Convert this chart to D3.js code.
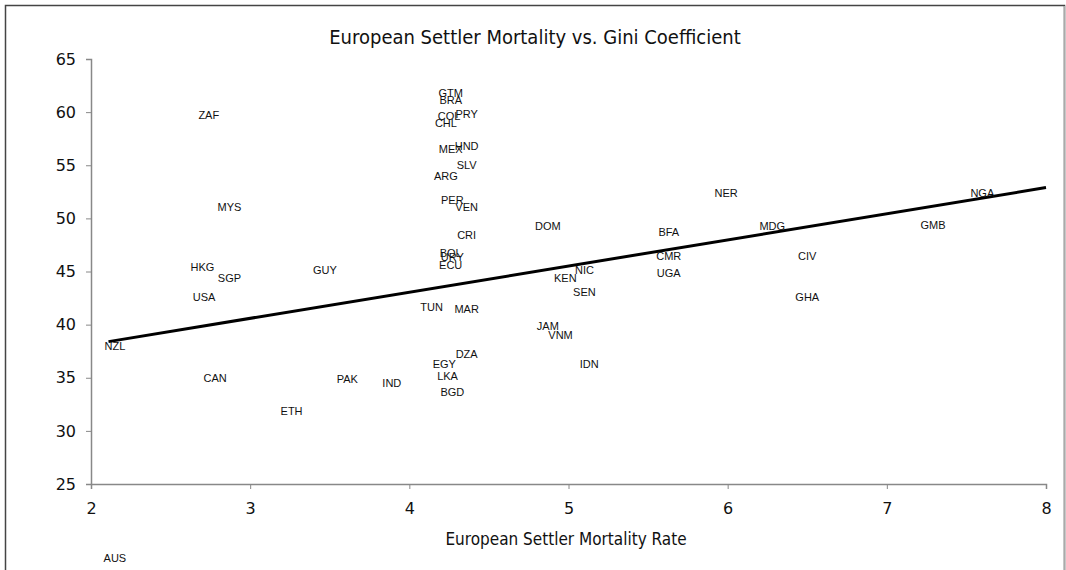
<!DOCTYPE html>
<html>
<head>
<meta charset="utf-8">
<script src="https://cdn.jsdelivr.net/npm/d3@7"></script>
<style>
  body { margin: 0; background: #fff; }
  svg { display: block; }
</style>
</head>
<body>
<div id="chart"></div>
<script>
// country codes with settler mortality (x) and gini coefficient (y)
const countries = ["GTM","BRA","COL","PRY","CHL","MEX","HND","SLV","ARG","PER","VEN",
  "CRI","BOL","URY","ECU","TUN","MAR","DZA","EGY","LKA","BGD",
  "ZAF","MYS","HKG","SGP","USA","GUY","NZL","CAN","ETH","PAK","IND","AUS",
  "DOM","BFA","CMR","UGA","NIC","KEN","SEN","JAM","VNM","IDN",
  "NER","MDG","CIV","GHA","GMB","NGA"];
const mortality = [4.26,4.26,4.25,4.36,4.23,4.26,4.36,4.36,4.23,4.27,4.36,
  4.36,4.26,4.27,4.26,4.14,4.36,4.36,4.22,4.24,4.27,
  2.74,2.87,2.70,2.87,2.71,3.47,2.15,2.78,3.26,3.61,3.89,2.15,
  4.87,5.63,5.63,5.63,5.10,4.98,5.10,4.87,4.95,5.13,
  5.99,6.28,6.50,6.50,7.29,7.60];
const gini = [61.8,61.1,59.6,59.8,59.0,56.5,56.8,55.0,54.0,51.7,51.1,
  48.4,46.7,46.4,45.6,41.7,41.5,37.2,36.3,35.2,33.7,
  59.7,51.1,45.4,44.4,42.6,45.1,38.0,35.0,31.9,34.9,34.5,18.0,
  49.3,48.7,46.5,44.9,45.1,44.4,43.1,39.9,39.0,36.3,
  52.4,49.3,46.5,42.6,49.4,52.4];

// trend line end points
const trendX = [2.11, 8];
const trendY = [38.4, 52.9];

const xTicks = [2, 3, 4, 5, 6, 7, 8];
const yTicks = [25, 30, 35, 40, 45, 50, 55, 60, 65];

const width = 1066, height = 570;
const plotLeft = 91, plotRight = 1046, plotTop = 59, plotBottom = 484;

const svg = d3.select("#chart").append("svg")
    .attr("width", width)
    .attr("height", height);

// chart frame
svg.append("rect")
    .attr("x", 5.5).attr("y", 5.5)
    .attr("width", 1059).attr("height", 620)
    .attr("fill", "none")
    .attr("stroke", "#444")
    .attr("stroke-width", 1.5);
svg.append("line")
    .attr("x1", 1064.5).attr("x2", 1064.5).attr("y1", 6).attr("y2", 570)
    .attr("stroke", "#aaa").attr("stroke-width", 1.5);

const x = d3.scaleLinear().domain([2, 8]).range([plotLeft, plotRight]);
const y = d3.scaleLinear().domain([25, 65]).range([plotBottom, plotTop]);

const xAxis = svg.append("g")
    .attr("transform", `translate(0,${plotBottom})`)
    .call(d3.axisBottom(x).tickValues(xTicks).tickSize(5).tickPadding(14).tickFormat(d3.format("d")));
const yAxis = svg.append("g")
    .attr("transform", `translate(${plotLeft},0)`)
    .call(d3.axisLeft(y).tickValues(yTicks).tickSize(5).tickPadding(10).tickFormat(d3.format("d")));

[xAxis, yAxis].forEach(g => {
    g.select(".domain").attr("stroke", "#888").attr("stroke-width", 1.5);
    g.selectAll(".tick line").attr("stroke", "#888");
    g.selectAll(".tick text")
        .attr("fill", "#111")
        .style("font-family", "'DejaVu Sans', sans-serif")
        .style("font-size", "16px");
});

// regression line
svg.append("line")
    .attr("x1", x(trendX[0])).attr("y1", y(trendY[0]))
    .attr("x2", x(trendX[1])).attr("y2", y(trendY[1]))
    .attr("stroke", "#000")
    .attr("stroke-width", 3);

// country labels
svg.append("g")
    .selectAll("text")
    .data(countries)
    .join("text")
    .attr("x", (d, i) => x(mortality[i]))
    .attr("y", (d, i) => y(gini[i]))
    .attr("dy", "0.36em")
    .attr("text-anchor", "middle")
    .attr("fill", "#111")
    .style("font-family", "'Liberation Sans', Arial, sans-serif")
    .style("font-size", "11px")
    .text(d => d);

svg.append("text")
    .attr("x", 535).attr("y", 44)
    .attr("text-anchor", "middle")
    .attr("fill", "#111")
    .style("font-family", "'DejaVu Sans Condensed', 'DejaVu Sans', sans-serif")
    .style("font-size", "20px")
    .text("European Settler Mortality vs. Gini Coefficient");

svg.append("text")
    .attr("x", 566).attr("y", 545)
    .attr("text-anchor", "middle")
    .attr("fill", "#111")
    .style("font-family", "'DejaVu Sans Condensed', 'DejaVu Sans', sans-serif")
    .style("font-size", "17px")
    .text("European Settler Mortality Rate");
</script>
</body>
</html>
